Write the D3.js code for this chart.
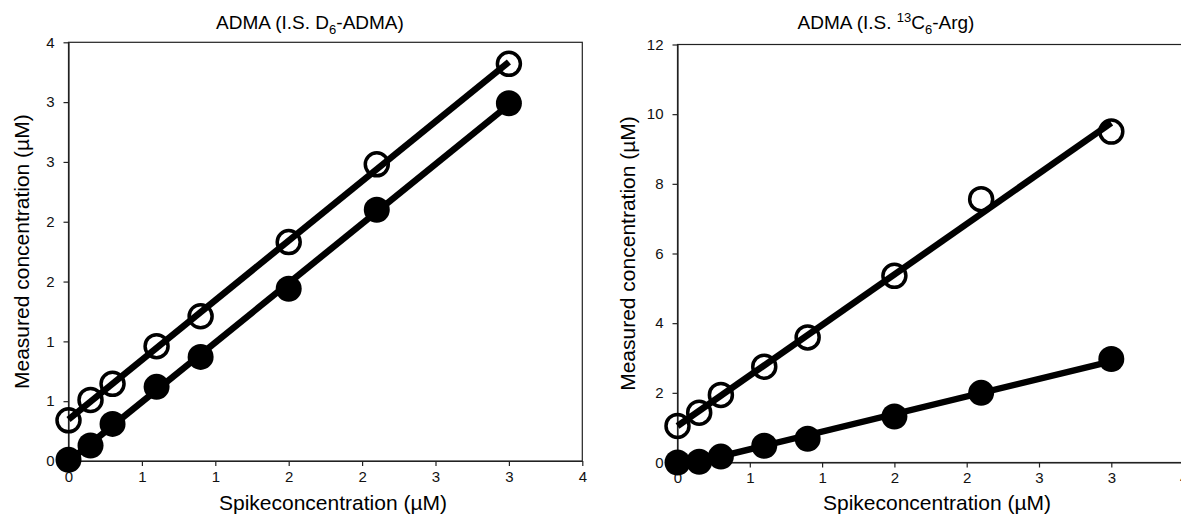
<!DOCTYPE html>
<html>
<head>
<meta charset="utf-8">
<script src="https://cdn.jsdelivr.net/npm/d3@7"></script>
<style>
  body { margin: 0; background: #fff; }
  svg { font-family: "Liberation Sans", Arial, sans-serif; }
  .frame { fill: none; stroke: #222; stroke-width: 1.2; }
  .axis path, .axis line { stroke: #222; stroke-width: 1.2; }
  .axis text { font-size: 15px; fill: #111; }
</style>
</head>
<body>
<svg id="chart" width="1181" height="522"></svg>
<script>
// spike concentrations (µM), same for both panels
const spike = [0, 0.15, 0.3, 0.6, 0.9, 1.5, 2.1, 3.0];

// left panel: I.S. D6-ADMA
const leftOpen = [0.34, 0.51, 0.645, 0.96, 1.21, 1.83, 2.48, 3.32];
const leftFilled = [0.01, 0.13, 0.31, 0.62, 0.87, 1.44, 2.10, 2.99];
const leftXTicks = [0, 0.5, 1, 1.5, 2, 2.5, 3, 3.5];
const leftXLabels = ["0", "1", "1", "2", "2", "3", "3", "4"];
const leftYTicks = [0, 0.5, 1, 1.5, 2, 2.5, 3, 3.5];
const leftYLabels = ["0", "1", "1", "2", "2", "3", "3", "4"];

// right panel: I.S. 13C6-Arg
const rightOpen = [1.05, 1.43, 1.94, 2.75, 3.59, 5.36, 7.56, 9.50];
const rightFilled = [0.0, 0.02, 0.17, 0.48, 0.68, 1.32, 2.0, 2.97];
const rightXTicks = [0, 0.5, 1, 1.5, 2, 2.5, 3, 3.5];
const rightXLabels = ["0", "1", "1", "2", "2", "3", "3", "4"];
const rightYTicks = [0, 2, 4, 6, 8, 10, 12];
const rightYLabels = ["0", "2", "4", "6", "8", "10", "12"];

const svg = d3.select("#chart");

// least squares fit
function fit(xs, ys) {
    const mx = d3.mean(xs), my = d3.mean(ys);
    const b = d3.sum(xs, (x, i) => (x - mx) * (ys[i] - my)) / d3.sum(xs, x => (x - mx) ** 2);
    return { a: my - b * mx, b };
}

function drawPanel(cfg) {
    const x = d3.scaleLinear().domain([0, 3.5]).range([cfg.left, cfg.right]);
    const y = d3.scaleLinear().domain([0, cfg.ymax]).range([cfg.bottom, cfg.top]);
    const g = svg.append("g");

    g.append("rect")
        .attr("class", "frame")
        .attr("x", cfg.left).attr("y", cfg.top)
        .attr("width", cfg.right - cfg.left)
        .attr("height", cfg.bottom - cfg.top);

    g.append("g")
        .attr("class", "axis")
        .attr("transform", `translate(0,${cfg.bottom})`)
        .call(d3.axisBottom(x).tickValues(cfg.xTicks)
            .tickFormat((d, i) => cfg.xLabels[i])
            .tickSize(5).tickPadding(5).tickSizeOuter(0));

    g.append("g")
        .attr("class", "axis")
        .attr("transform", `translate(${cfg.left},0)`)
        .call(d3.axisLeft(y).tickValues(cfg.yTicks)
            .tickFormat((d, i) => cfg.yLabels[i])
            .tickSize(5).tickPadding(9).tickSizeOuter(0));

    // regression lines first, markers on top
    [cfg.open, cfg.filled].forEach(vals => {
        const f = fit(spike, vals);
        g.append("line")
            .attr("x1", x(0)).attr("y1", y(f.a))
            .attr("x2", x(3)).attr("y2", y(f.a + f.b * 3))
            .attr("stroke", "#000")
            .attr("stroke-width", 6.5);
    });

    g.selectAll("circle.filled")
        .data(spike.map((s, i) => [s, cfg.filled[i]]))
        .join("circle")
        .attr("class", "filled")
        .attr("cx", d => x(d[0]))
        .attr("cy", d => y(d[1]))
        .attr("r", 13)
        .attr("fill", "#000");

    g.selectAll("circle.open")
        .data(spike.map((s, i) => [s, cfg.open[i]]))
        .join("circle")
        .attr("class", "open")
        .attr("cx", d => x(d[0]))
        .attr("cy", d => y(d[1]))
        .attr("r", 11.5)
        .attr("fill", "none")
        .attr("stroke", "#000")
        .attr("stroke-width", 3.5);

    // title
    const t = g.append("text")
        .attr("x", cfg.titleX).attr("y", 29)
        .attr("text-anchor", "middle")
        .attr("font-size", 19);
    cfg.title(t);

    g.append("text")
        .attr("x", cfg.xLabelX).attr("y", 510)
        .attr("text-anchor", "middle")
        .attr("font-size", 21)
        .text("Spikeconcentration (µM)");

    g.append("text")
        .attr("transform", `translate(${cfg.yLabelX},${(cfg.top + cfg.bottom) / 2}) rotate(-90)`)
        .attr("text-anchor", "middle")
        .attr("font-size", 21)
        .text("Measured concentration (µM)");
}

drawPanel({
    left: 68.5, right: 582.3, top: 42.3, bottom: 461, ymax: 3.5,
    xTicks: leftXTicks, xLabels: leftXLabels,
    yTicks: leftYTicks, yLabels: leftYLabels,
    open: leftOpen, filled: leftFilled,
    titleX: 310, xLabelX: 333, yLabelX: 29,
    title: t => {
        t.append("tspan").text("ADMA (I.S. D");
        t.append("tspan").attr("dy", 5).attr("font-size", 13).text("6");
        t.append("tspan").attr("dy", -5).text("-ADMA)");
    }
});

drawPanel({
    left: 677.5, right: 1183.6, top: 44.5, bottom: 462.5, ymax: 12,
    xTicks: rightXTicks, xLabels: rightXLabels,
    yTicks: rightYTicks, yLabels: rightYLabels,
    open: rightOpen, filled: rightFilled,
    titleX: 886, xLabelX: 937, yLabelX: 635,
    title: t => {
        t.append("tspan").text("ADMA (I.S. ");
        t.append("tspan").attr("dy", -7).attr("font-size", 13).text("13");
        t.append("tspan").attr("dy", 7).text("C");
        t.append("tspan").attr("dy", 5).attr("font-size", 13).text("6");
        t.append("tspan").attr("dy", -5).text("-Arg)");
    }
});
</script>
</body>
</html>
